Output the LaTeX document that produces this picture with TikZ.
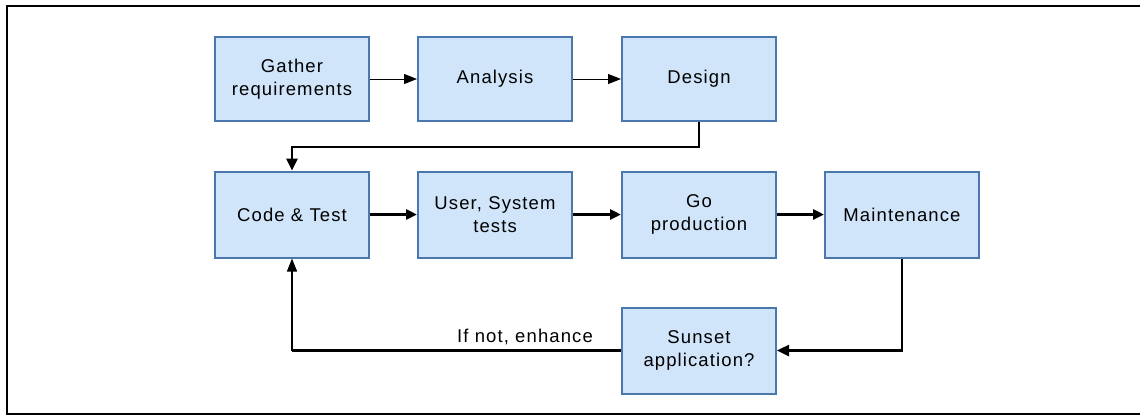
\documentclass[tikz,border=0pt]{standalone}
\usepackage{fontspec}
\setmainfont{Liberation Sans}[LetterSpace=6]
\usetikzlibrary{arrows.meta, positioning, calc}
\definecolor{stepfill}{HTML}{D0E5FA}
\definecolor{stepedge}{HTML}{4A78AE}

\begin{document}
\begin{tikzpicture}[x=1pt, y=-1pt,
    stepbox/.style={
        draw=stepedge,
        line width=2pt,
        fill=stepfill,
        minimum width=154pt,
        minimum height=86pt,
        font=\fontsize{18.5}{22.5}\selectfont,
        align=center,
        inner sep=0pt
    },
    thinarrow/.style={
        line width=1pt,
        -{Triangle[length=13pt, width=10pt]}
    },
    boldarrow/.style={
        line width=3.5pt,
        -{Triangle[length=11pt, width=10pt]}
    },
    midarrow/.style={
        line width=2.5pt,
        -{Triangle[length=12pt, width=11pt]}
    },
    labeltext/.style={
        font=\fontsize{18.5}{22.5}\selectfont,
        inner sep=0pt
    }
]
\useasboundingbox (0,0) rectangle (1140,416);

% Frame (open at the right)
\draw[line width=1.5pt] (1140,6) -- (7,6) -- (7,414) -- (1140,414);

% Planning row
\node[stepbox, minimum height=84pt] (gather) at (292,79) {Gather\\requirements};
\node[stepbox, minimum height=84pt] (analysis) at (495,79) {Analysis};
\node[stepbox, minimum height=84pt] (design) at (699,79) {Design};

% Delivery row
\node[stepbox] (code) at (292,214.5) {Code \& Test};
\node[stepbox] (usertest) at (495,214.5) {User, System\\tests};
\node[stepbox] (golive) at (699,214.5) {Go\\production};
\node[stepbox] (maint) at (902,214.5) {Maintenance};

% Decision
\node[stepbox] (sunset) at (699,350.5) {Sunset\\application?};

% Connectors
\draw[thinarrow] (gather) -- (analysis);
\draw[thinarrow] (analysis) -- (design);

\coordinate (turn) at (699,147);
\draw[midarrow] (design.south) -- (turn) -| (code.north);

\draw[boldarrow] (code) -- (usertest);
\draw[boldarrow] (usertest) -- (golive);
\draw[boldarrow] (golive) -- (maint);

\draw[midarrow] (maint.south) |- (sunset.east);

\coordinate (back) at (sunset.west -| code.south);
\draw[line width=3pt] (sunset.west) -- (back);
\draw[thinarrow, line width=1.5pt] (back) -- (code.south);
\node[labeltext, anchor=base] (enhance) at (525,342) {If not, enhance};

\end{tikzpicture}
\end{document}
